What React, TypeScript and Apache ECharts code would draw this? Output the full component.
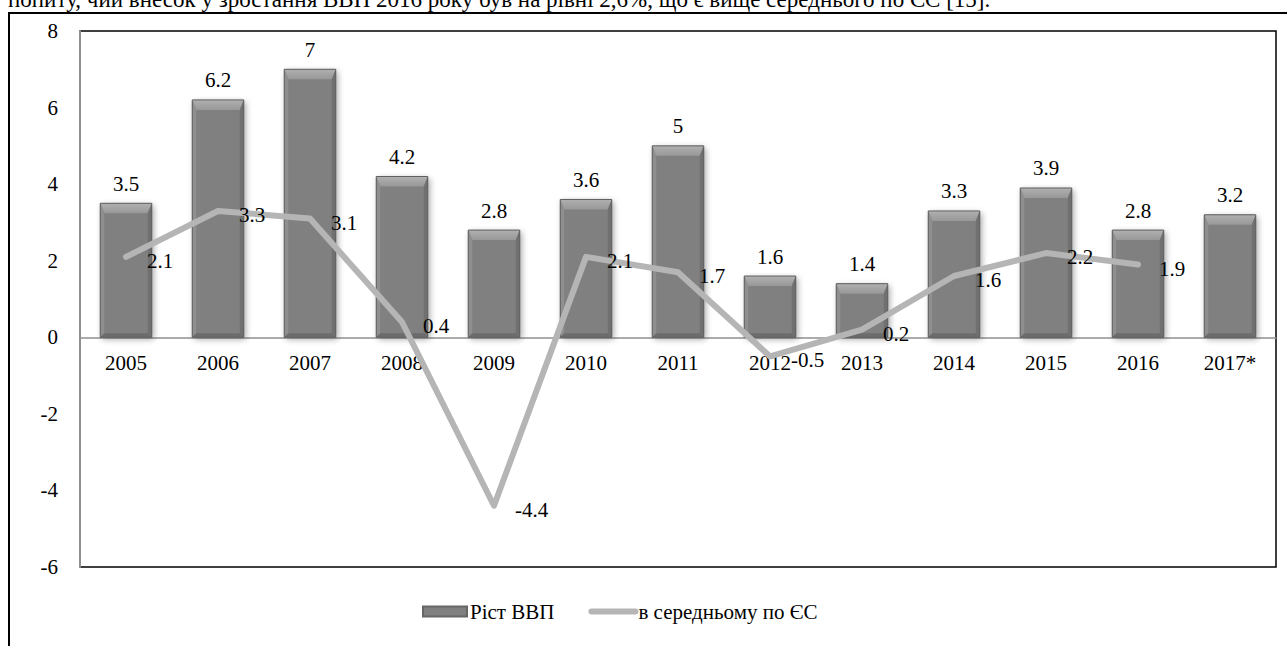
import React, { useEffect, useRef } from "react";
import * as echarts from "echarts";

const categories = ["2005", "2006", "2007", "2008", "2009", "2010", "2011", "2012", "2013", "2014", "2015", "2016", "2017*"];
const gdpGrowth = [3.5, 6.2, 7, 4.2, 2.8, 3.6, 5, 1.6, 1.4, 3.3, 3.9, 2.8, 3.2];
const euAverage: (number | null)[] = [2.1, 3.3, 3.1, 0.4, -4.4, 2.1, 1.7, -0.5, 0.2, 1.6, 2.2, 1.9, null];
const seriesNames = ["Ріст ВВП", "в середньому по ЄС"];
const yTicks = { min: -6, max: 8, interval: 2 };
const headerText = "попиту, чий внесок у зростання ВВП 2016 року був на рівні 2,6%, що є вище середнього по ЄС [15].";

const FONT = "Liberation Serif";
const FS = 21;

export default function App() {
  const ref = useRef<HTMLDivElement>(null);
  useEffect(() => {
    if (!ref.current) return;
    const chart = echarts.init(ref.current, null, { renderer: "svg" });
    const gridTop = 31;
    const gridBottom = 79;
    const plotH = 646 - gridTop - gridBottom;
    const zeroOffset = -(plotH * (0 - yTicks.min)) / (yTicks.max - yTicks.min);
    const option: any = {
      animation: false,
      backgroundColor: "#fff",
      textStyle: { fontFamily: FONT, color: "#000" },
      graphic: [
        {
          type: "rect",
          shape: { x: 9, y: 13, width: 1300, height: 700 },
          style: { fill: "none", stroke: "#000", lineWidth: 2 },
          silent: true,
          z: 0,
        },
        {
          type: "text",
          x: 8,
          y: -1,
          style: {
            text: headerText,
            fontSize: 23,
            fontFamily: FONT,
            fill: "#000",
            verticalAlign: "middle",
          },
          silent: true,
        },
      ],
      grid: {
        left: 80,
        right: 11,
        top: gridTop,
        bottom: gridBottom,
        show: true,
        borderColor: "#000",
        borderWidth: 1.5,
        backgroundColor: "transparent",
      },
      legend: {
        bottom: 19,
        left: 417,
        itemGap: 34,
        itemWidth: 44,
        itemHeight: 10,
        textStyle: { fontFamily: FONT, fontSize: FS, color: "#000", padding: [0, 0, 0, -2] },
        data: [
          { name: seriesNames[0], icon: "rect" },
          {
            name: seriesNames[1],
            lineStyle: { width: 6, cap: "round", color: "#b5b5b5" },
            itemStyle: { color: "transparent", borderWidth: 0, opacity: 0 },
          },
        ],
      },
      xAxis: {
        type: "category",
        data: categories,
        offset: zeroOffset,
        axisLine: { onZero: false, lineStyle: { color: "#909090", width: 1.5 } },
        axisTick: { show: false },
        axisLabel: { fontFamily: FONT, fontSize: FS, color: "#000", margin: 15 },
      },
      yAxis: {
        type: "value",
        min: yTicks.min,
        max: yTicks.max,
        interval: yTicks.interval,
        axisLine: { show: true, lineStyle: { color: "#909090", width: 2 } },
        axisTick: { show: false },
        splitLine: { show: false },
        axisLabel: { fontFamily: FONT, fontSize: FS, color: "#000", margin: 22 },
      },
      series: [
        {
          name: seriesNames[0],
          type: "bar",
          data: gdpGrowth,
          barWidth: "56%",
          itemStyle: {
            color: "#808080",
            borderColor: "#666",
            borderWidth: 1,
            shadowBlur: 6,
            shadowColor: "rgba(0,0,0,0.35)",
            shadowOffsetX: 2,
            shadowOffsetY: 2,
          },
          label: {
            show: true,
            position: "top",
            distance: 9,
            fontFamily: FONT,
            fontSize: FS,
            color: "#000",
          },
          z: 2,
        },
        {
          type: "custom",
          name: "bevel",
          silent: true,
          data: gdpGrowth.map((v, i) => [i, v]),
          encode: { x: 0, y: 1 },
          z: 3,
          renderItem: (params: any, api: any) => {
            const idx = api.value(0);
            const v = api.value(1);
            const top = api.coord([idx, v]);
            const base = api.coord([idx, 0]);
            const bw = api.size([1, 0])[0] * 0.56;
            const l = top[0] - bw / 2;
            const r = top[0] + bw / 2;
            const t = top[1];
            const b = base[1];
            const tb = 10;
            const sb = 4;
            return {
              type: "group",
              children: [
                {
                  type: "polygon",
                  shape: { points: [[l, t], [r, t], [r - sb, t + tb], [l + sb, t + tb]] },
                  style: {
                    fill: new echarts.graphic.LinearGradient(0, 0, 0, 1, [
                      { offset: 0, color: "#b0b0b0" },
                      { offset: 1, color: "#989898" },
                    ]),
                  },
                },
                {
                  type: "polygon",
                  shape: { points: [[l, t], [l + sb, t + tb], [l + sb, b - sb], [l, b]] },
                  style: { fill: "#8f8f8f" },
                },
                {
                  type: "polygon",
                  shape: { points: [[r, t], [r - sb, t + tb], [r - sb, b - sb], [r, b]] },
                  style: { fill: "#707070" },
                },
                {
                  type: "polygon",
                  shape: { points: [[l, b], [l + sb, b - sb], [r - sb, b - sb], [r, b]] },
                  style: { fill: "#6c6c6c" },
                },
                {
                  type: "rect",
                  shape: { x: l, y: t, width: bw, height: b - t },
                  style: { fill: "none", stroke: "#606060", lineWidth: 1 },
                },
              ],
            };
          },
        },
        {
          name: seriesNames[1],
          type: "line",
          data: euAverage,
          symbol: "none",
          connectNulls: false,
          lineStyle: { color: "#b5b5b5", width: 6, cap: "round", join: "round" },
          itemStyle: { color: "#b5b5b5" },
          z: 4,
        },
        {
          name: "euLabels",
          type: "scatter",
          data: euAverage,
          symbolSize: 2,
          itemStyle: { color: "transparent" },
          silent: true,
          label: {
            show: true,
            position: "right",
            distance: 20,
            offset: [0, 4],
            fontFamily: FONT,
            fontSize: FS,
            color: "#000",
            opacity: 1,
          },
          z: 5,
        },
      ],
    };
    chart.setOption(option);
    return () => chart.dispose();
  }, []);
  return (
    <div
      ref={ref}
      style={{ position: "fixed", left: 0, top: 0, width: 1287, height: 646 }}
    />
  );
}
